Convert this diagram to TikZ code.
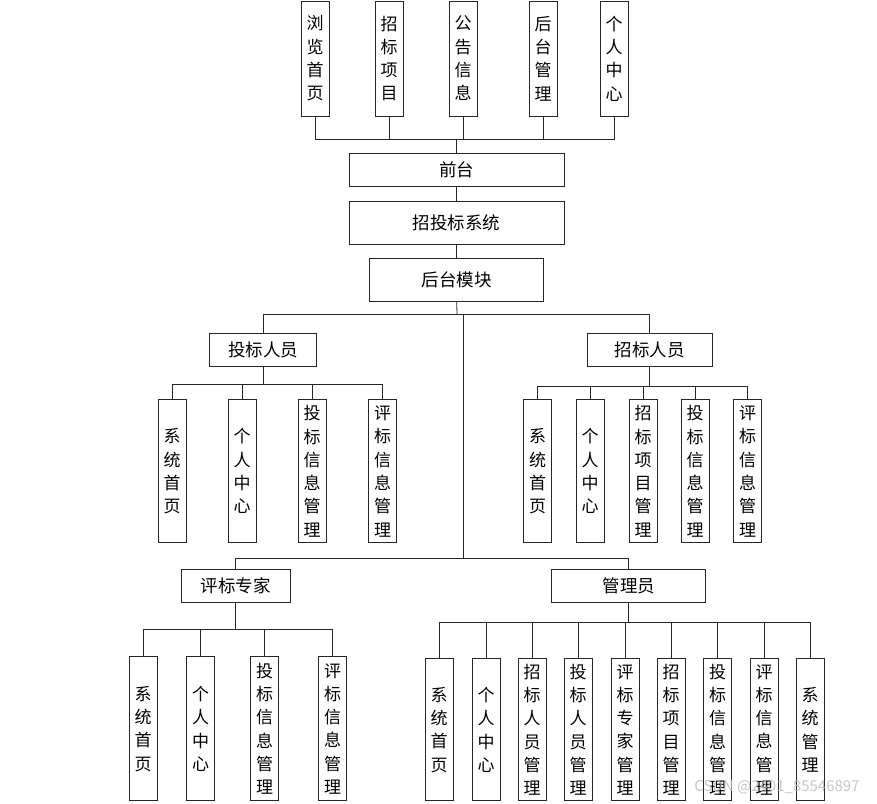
\documentclass[tikz,border=0pt]{standalone}
\usepackage{fontspec}
\setmainfont{Noto Sans CJK SC}
\usetikzlibrary{positioning}
\tikzset{
  box/.style={draw=black!85, line width=0.8pt, align=center, inner sep=0pt,
              font=\fontsize{17}{23.3}\selectfont},
  hbox/.style={box, minimum height=33pt, font=\fontsize{17.5}{23.3}\selectfont},
  vbox/.style={box, minimum width=28pt, minimum height=143pt},
  ln/.style={draw=black!85, line width=0.8pt},
}

\begin{document}
\begin{tikzpicture}[x=1pt, y=-1pt]
  \useasboundingbox (0,0) rectangle (877,803);

  % front end
  \foreach \x/\t [count=\i] in {315/{浏\\览\\首\\页}, 389/{招\\标\\项\\目},
      463/{公\\告\\信\\息}, 543/{后\\台\\管\\理}, 614/{个\\人\\中\\心}}
    \node[vbox, minimum height=115pt] (tp\i) at (\x,58.5) {\t};
  \node[hbox, minimum width=215pt] (qt) at (456.7,169.7) {前台};
  \node[hbox, minimum width=215pt, minimum height=43pt, below=14pt of qt] (xt) {招投标系统};
  \node[hbox, minimum width=174pt, minimum height=43pt, below=14pt of xt] (ht) {后台模块};
  \coordinate (bt) at (457,139.3);
  \foreach \i in {1,...,5}
    \draw[ln] (qt.north) |- (tp\i.south |- bt) -- (tp\i.south);
  \draw[ln] (qt.south) -- (xt.north);
  \draw[ln] (xt.south) -- (ht.north);

  % roles
  \node[hbox, minimum width=107pt] (tb) at (263.3,349.7) {投标人员};
  \node[hbox, minimum width=125pt] (zb) at (649.8,349.7) {招标人员};
  \node[hbox, minimum width=109pt] (pz) at (235.5,585.8) {评标专家};
  \node[hbox, minimum width=154pt] (gl) at (628.8,586) {管理员};
  \coordinate (j1) at (457,314);
  \coordinate (j2) at (463,558);
  \draw[ln] (ht.south) -- (j1);
  \draw[ln] (tb.north) |- (j1);
  \draw[ln] (zb.north) |- (j1);
  \draw[ln] (j1 -| j2) -- (j2);
  \draw[ln] (pz.north) |- (j2);
  \draw[ln] (gl.north) |- (j2);

  % bidder
  \coordinate (b1) at (263,384);
  \foreach \x/\t [count=\i] in {172/{系\\统\\首\\页}, 242/{个\\人\\中\\心},
      312/{投\\标\\信\\息\\管\\理}, 382.5/{评\\标\\信\\息\\管\\理}} {
    \node[vbox] (tb\i) at (\x,471.3) {\t};
    \draw[ln] (tb.south) |- (tb\i.north |- b1) -- (tb\i.north);
  }

  % tenderer
  \coordinate (b2) at (650,386.7);
  \foreach \x/\t [count=\i] in {537.5/{系\\统\\首\\页}, 590/{个\\人\\中\\心},
      643/{招\\标\\项\\目\\管\\理}, 695/{投\\标\\信\\息\\管\\理},
      747.5/{评\\标\\信\\息\\管\\理}} {
    \node[vbox] (zb\i) at (\x,471.3) {\t};
    \draw[ln] (zb.south) |- (zb\i.north |- b2) -- (zb\i.north);
  }

  % expert
  \coordinate (b3) at (236,629.3);
  \foreach \x/\t [count=\i] in {143/{系\\统\\首\\页}, 200.5/{个\\人\\中\\心},
      264.5/{投\\标\\信\\息\\管\\理}, 332.5/{评\\标\\信\\息\\管\\理}} {
    \node[vbox, minimum height=144pt] (pz\i) at (\x,728.8) {\t};
    \draw[ln] (pz.south) |- (pz\i.north |- b3) -- (pz\i.north);
  }

  % admin
  \coordinate (b4) at (629,622.7);
  \foreach \x/\t [count=\i] in {439/{系\\统\\首\\页}, 486/{个\\人\\中\\心},
      532/{招\\标\\人\\员\\管\\理}, 578/{投\\标\\人\\员\\管\\理},
      625/{评\\标\\专\\家\\管\\理}, 671/{招\\标\\项\\目\\管\\理},
      717.5/{投\\标\\信\\息\\管\\理}, 764/{评\\标\\信\\息\\管\\理},
      810/{系\\统\\管\\理}} {
    \node[vbox, minimum height=142pt] (gl\i) at (\x,729.8) {\t};
    \draw[ln] (gl.south) |- (gl\i.north |- b4) -- (gl\i.north);
  }

  \node[text=gray!55, opacity=0.8, font=\fontsize{15}{15}\selectfont] (wm) at (777,787.5) {CSDN @2401\_85546897};
\end{tikzpicture}
\end{document}
